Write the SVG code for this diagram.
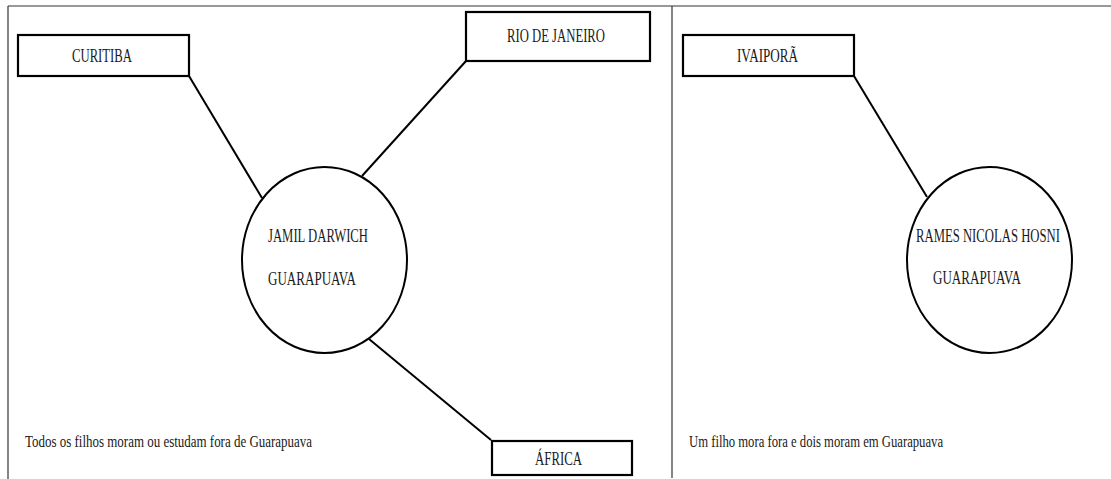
<svg xmlns="http://www.w3.org/2000/svg" width="1111" height="479" viewBox="0 0 1111 479">
<style>
.frame{stroke:#333;stroke-width:1.2;fill:none}
.box{fill:#fff;stroke:#000;stroke-width:2.2}
.circ{fill:#fff;stroke:#000;stroke-width:2}
.conn{stroke:#000;stroke-width:2;fill:none}
.lbl{font-family:'Liberation Serif','Times New Roman',serif;fill:#1a1a1a;font-size:19px}
.note{font-family:'Liberation Serif','Times New Roman',serif;fill:#1a1a1a;font-size:16px}
</style>
<rect width="1111" height="479" fill="#fff"/>
<g id="frame">
<line class="frame" x1="8" y1="6" x2="1111" y2="6"/>
<line class="frame" x1="8" y1="6" x2="8" y2="479"/>
<line class="frame" x1="672" y1="6" x2="672" y2="478"/>
</g>
<g id="connectors">
<line class="conn" x1="189" y1="76" x2="262" y2="198"/>
<line class="conn" x1="466" y1="61" x2="362" y2="176"/>
<line class="conn" x1="369" y1="339" x2="491" y2="440"/>
<line class="conn" x1="854" y1="76" x2="927" y2="197"/>
</g>
<g id="curitiba">
<rect class="box" x="18" y="35" width="171" height="41"/>
<text class="lbl" font-family="Liberation Serif, serif" x="72" y="62" textLength="60" lengthAdjust="spacingAndGlyphs">CURITIBA</text>
</g>
<g id="rio">
<rect class="box" x="466" y="12" width="184" height="49"/>
<text class="lbl" font-family="Liberation Serif, serif" x="507" y="42" textLength="98" lengthAdjust="spacingAndGlyphs">RIO DE JANEIRO</text>
</g>
<g id="africa">
<rect class="box" x="492" y="441" width="140" height="34"/>
<text class="lbl" font-family="Liberation Serif, serif" x="535" y="465" textLength="47" lengthAdjust="spacingAndGlyphs">ÁFRICA</text>
</g>
<g id="jamil">
<ellipse class="circ" cx="324.5" cy="260" rx="82.5" ry="93"/>
<text class="lbl" font-family="Liberation Serif, serif" x="268" y="242" textLength="100" lengthAdjust="spacingAndGlyphs">JAMIL DARWICH</text>
<text class="lbl" font-family="Liberation Serif, serif" x="268" y="285" textLength="88" lengthAdjust="spacingAndGlyphs">GUARAPUAVA</text>
</g>
<g id="note-left">
<text class="note" font-family="Liberation Serif, serif" x="25" y="447" textLength="287" lengthAdjust="spacingAndGlyphs">Todos os filhos moram ou estudam fora de Guarapuava</text>
</g>
<g id="ivaipora">
<rect class="box" x="683" y="35" width="171" height="41"/>
<text class="lbl" font-family="Liberation Serif, serif" x="737" y="62" textLength="61" lengthAdjust="spacingAndGlyphs">IVAIPORÃ</text>
</g>
<g id="rames">
<ellipse class="circ" cx="989.5" cy="260" rx="82.5" ry="93"/>
<text class="lbl" font-family="Liberation Serif, serif" x="916" y="242" textLength="144" lengthAdjust="spacingAndGlyphs">RAMES NICOLAS HOSNI</text>
<text class="lbl" font-family="Liberation Serif, serif" x="933" y="284" textLength="88" lengthAdjust="spacingAndGlyphs">GUARAPUAVA</text>
</g>
<g id="note-right">
<text class="note" font-family="Liberation Serif, serif" x="689" y="447" textLength="254" lengthAdjust="spacingAndGlyphs">Um filho mora fora e dois moram em Guarapuava</text>
</g>
</svg>
